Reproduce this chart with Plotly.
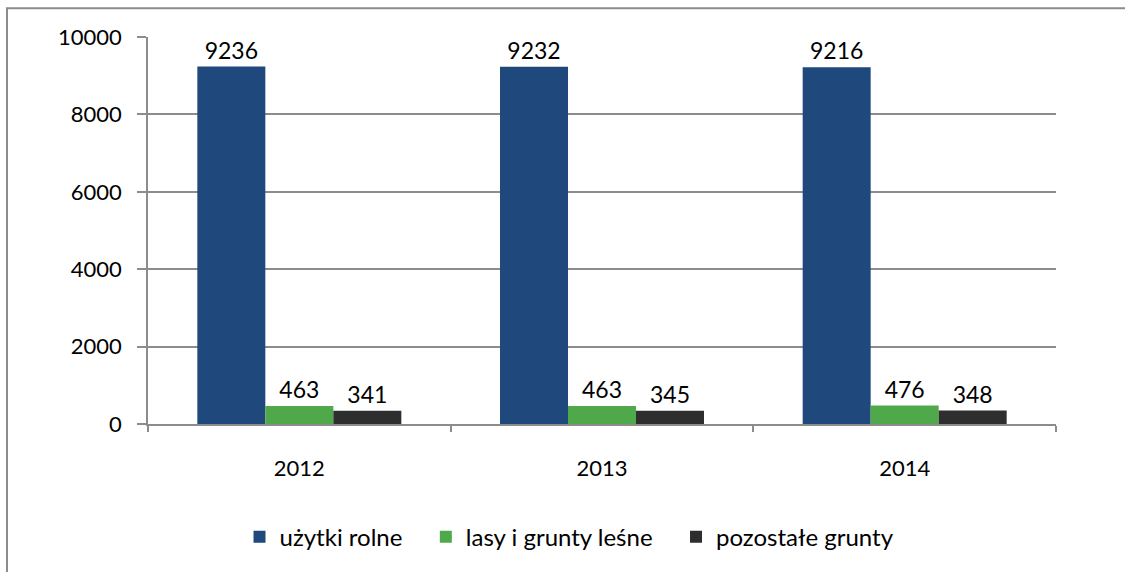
import plotly.graph_objects as go

years = ["2012", "2013", "2014"]
uzytki_rolne = [9236, 9232, 9216]
lasy = [463, 463, 476]
pozostale = [341, 345, 348]
series_names = ["użytki rolne", "lasy i grunty leśne", "pozostałe grunty"]
colors = ["#1F497D", "#4FA84A", "#2E2E2E"]

FONT = "Lato, Carlito, Calibri, sans-serif"
PAD = "\u00a0" * 3  # extra spacing after each legend entry

fig = go.Figure()
for name, vals, col in zip(series_names, [uzytki_rolne, lasy, pozostale], colors):
    fig.add_trace(go.Bar(
        x=years, y=vals, name=name + PAD, marker=dict(color=col, line=dict(width=0)),
        text=[str(v) for v in vals], textposition="outside",
        textfont=dict(size=23, color="#000000", family=FONT),
        cliponaxis=False,
    ))

W, H = 1125, 572
l, r, t, b = 148, 69, 37, 145
pw, ph = W - l - r, H - t - b
plot_bottom = t + ph

fig.update_layout(
    width=W, height=H,
    margin=dict(l=l, r=r, t=t, b=b, pad=0),
    barmode="group", bargap=0.326, bargroupgap=0,
    paper_bgcolor="white", plot_bgcolor="white",
    font=dict(family=FONT, size=22, color="#000000"),
    showlegend=True,
    legend=dict(orientation="h", x=(578 - l) / pw, xanchor="center",
                y=(plot_bottom - 541) / ph, yanchor="middle",
                font=dict(size=24, family=FONT), itemwidth=30, traceorder="normal"),
    xaxis=dict(type="category", showline=True, linecolor="#8C8C8C", linewidth=1.5,
               ticks="outside", tickson="boundaries", ticklen=6, tickcolor="#8C8C8C",
               tickwidth=1.5, showgrid=False, tickfont=dict(size=22), ticklabelstandoff=24),
    yaxis=dict(range=[0, 10000], dtick=2000, tickformat="d", showline=True,
               linecolor="#8C8C8C", linewidth=1.5,
               ticks="outside", ticklen=9, tickcolor="#8C8C8C", tickwidth=1.5,
               showgrid=True, gridcolor="#8C8C8C", gridwidth=1.5, zeroline=False,
               tickfont=dict(size=22), ticklabelstandoff=11),
    shapes=[dict(type="rect", xref="paper", yref="paper",
                 x0=(7 - l) / pw, x1=(1140 - l) / pw,
                 y0=(plot_bottom - 590) / ph, y1=(plot_bottom - 8) / ph,
                 line=dict(color="#8C8C8C", width=2), fillcolor="rgba(0,0,0,0)", layer="below")],
)

fig.write_html("out.html", config={"displayModeBar": False},
               post_script="document.body.style.margin='0px';")
